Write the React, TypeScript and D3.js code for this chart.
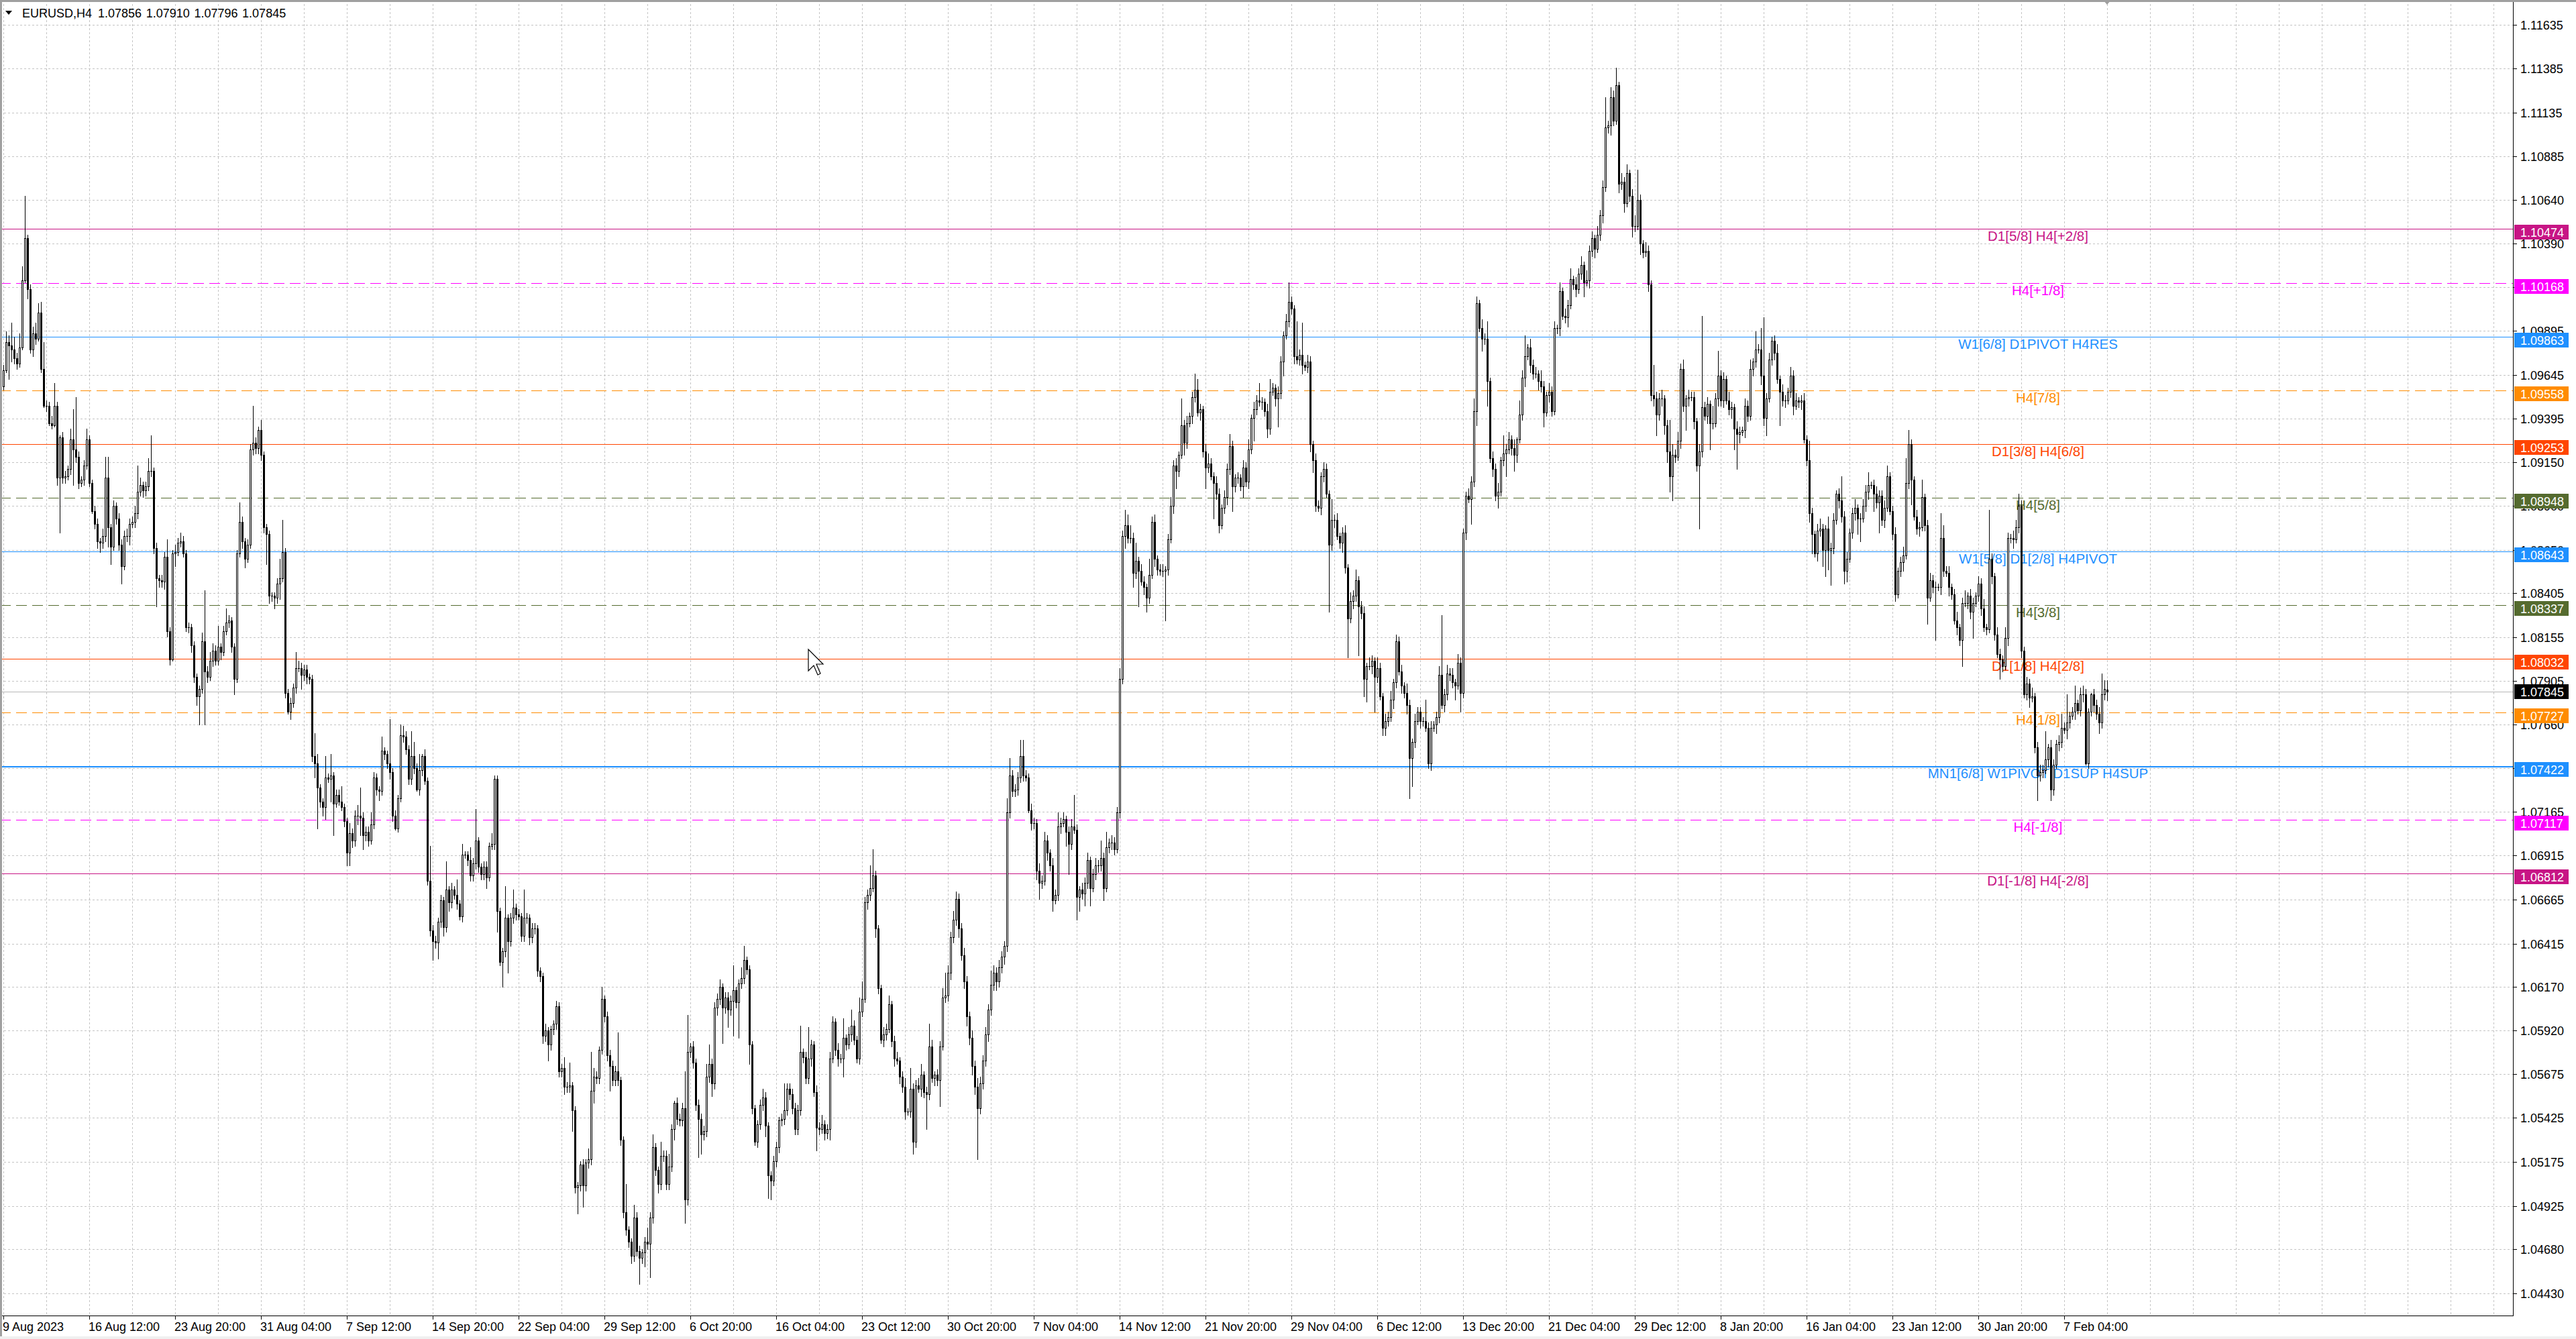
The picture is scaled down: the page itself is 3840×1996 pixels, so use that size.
import React from "react";
import * as d3 from "d3";

// ---------- DATA (prices in pips above 1.0000, e.g. 885 = 1.0885) ----------
const firstOpen = 958;
const closes: number[] = [
  967,983,981,979,974,971,980,1018,1042,1013,979,988,985,1000,968,947,947,937,936,947,
  906,929,906,907,911,928,922,918,903,905,913,928,903,887,880,870,869,873,906,878,
  867,890,883,868,856,873,873,880,881,886,898,902,899,901,910,910,866,849,848,847,
  861,819,803,863,864,869,870,863,821,821,811,793,782,786,813,796,793,802,808,802,
  810,807,819,824,825,810,792,863,881,870,860,868,922,926,923,933,919,878,874,839,
  839,838,846,849,864,784,773,778,787,798,798,794,797,793,792,748,744,730,722,719,
  736,735,737,721,726,722,719,711,693,704,700,714,714,713,703,705,700,709,736,729,
  728,751,749,744,739,714,707,724,760,759,752,735,748,741,729,740,748,734,677,649,
  643,642,654,666,651,672,665,672,669,664,657,692,692,689,680,687,700,685,681,685,
  679,697,698,735,660,631,637,656,643,656,662,658,657,646,656,656,645,650,650,626,
  623,589,592,584,593,596,606,569,571,560,560,561,547,503,504,516,504,517,519,558,
  566,565,581,610,600,578,572,564,569,564,530,489,479,472,464,486,467,463,466,472,
  471,486,526,513,505,521,521,505,515,536,551,542,541,548,496,580,583,574,550,542,
  533,535,566,573,562,605,610,617,605,611,604,609,615,608,619,622,632,627,584,548,
  529,539,550,554,538,510,507,518,526,541,542,547,559,556,548,536,547,580,577,565,
  576,584,557,537,536,539,534,536,576,597,581,576,576,588,584,590,595,587,576,603,
  610,665,669,673,680,650,616,587,590,593,607,586,576,575,566,560,546,546,559,529,
  561,559,567,557,556,583,565,567,564,583,611,612,625,645,655,667,650,635,620,600,
  588,572,560,548,562,575,590,604,618,625,620,628,634,640,716,737,728,729,736,748,
  737,736,717,710,710,683,676,677,700,693,686,666,669,708,710,712,705,698,708,706,
  668,672,670,676,689,673,681,686,686,690,673,696,699,699,695,716,792,873,879,872,
  872,852,859,853,847,844,838,851,881,860,854,853,853,854,871,890,913,910,919,936,
  926,937,941,952,956,943,945,921,912,914,907,903,897,879,889,895,911,924,901,906,
  906,901,912,904,922,940,945,950,949,949,944,934,955,957,951,954,972,987,995,1006,
  1002,975,973,976,970,969,972,925,916,890,889,907,911,897,868,882,882,873,869,875,
  855,826,836,839,848,833,829,792,799,799,802,793,798,782,764,768,770,780,790,813,
  796,788,784,777,747,756,768,773,768,768,764,744,764,766,770,794,777,783,795,794,
  790,788,801,784,875,896,894,904,944,1005,991,985,985,961,917,911,896,898,916,920,
  922,928,923,919,928,942,963,975,980,970,965,965,961,958,943,953,955,944,991,991,
  1012,998,997,1004,1019,1016,1013,1022,1027,1017,1018,1035,1042,1036,1044,1055,1071,1105,1106,1122,
  1109,1129,1073,1074,1062,1079,1066,1049,1049,1064,1039,1034,1035,1016,953,951,942,951,951,936,
  921,907,919,918,927,968,947,951,952,952,938,913,921,946,941,948,937,937,951,964,
  950,962,950,945,946,934,931,932,933,947,941,968,972,979,979,964,940,951,973,984,
  977,962,955,950,950,955,964,947,950,949,950,928,916,886,874,863,876,877,865,877,
  865,866,882,897,893,884,853,860,875,886,889,883,883,890,898,902,902,897,892,896,
  882,889,907,887,874,840,853,858,862,903,925,905,884,877,878,895,879,838,848,844,
  844,844,872,853,852,844,840,825,821,814,835,835,839,830,835,839,846,832,821,820,
  860,850,817,806,803,799,815,872,872,871,878,890,808,783,789,781,782,753,737,739,
  740,746,753,729,743,755,756,764,763,767,771,773,778,774,783,783,744,773,783,777,
  772,767,783,786,784.5,
];
// upper wick (pips above body top)
const wickUp: number[] = [
  3,6,4,13,7,3,8,8,24,2,3,4,6,5,6,15,3,2,4,13,
  2,1,3,3,2,6,17,30,3,2,3,6,2,2,3,3,2,4,12,12,
  2,3,2,3,3,3,4,3,3,4,15,4,2,3,7,20,2,3,2,3,
  3,10,2,2,4,3,5,3,2,3,2,2,2,2,5,29,3,5,4,3,
  12,2,3,8,3,2,2,2,11,3,2,3,3,21,3,2,6,2,2,2,
  2,2,3,11,18,2,2,3,2,9,4,3,3,3,2,2,13,5,2,2,
  12,2,12,2,3,3,9,2,2,6,3,3,6,16,3,3,3,7,3,2,
  2,8,2,2,25,2,3,2,6,5,3,2,14,8,3,9,1,4,2,20,
  3,3,2,3,2,16,2,4,2,9,2,6,2,2,7,3,18,2,2,3,
  3,2,6,2,2,2,2,18,2,3,10,2,3,2,16,3,2,3,3,2,
  2,2,4,2,2,2,3,2,2,6,3,13,2,2,2,2,3,2,6,22,
  5,3,2,7,2,3,3,3,3,22,2,2,16,2,2,7,3,3,2,3,
  8,3,7,2,2,8,3,3,7,3,1,3,3,3,21,21,2,3,2,3,
  3,3,7,11,3,3,3,4,2,3,3,3,14,2,2,6,8,2,2,2,
  2,2,3,5,3,2,2,3,3,2,3,15,3,3,3,3,3,15,2,3,
  18,3,2,4,3,5,2,3,4,3,2,4,3,11,2,4,9,3,2,8,
  10,3,3,13,15,3,2,2,4,3,5,2,3,4,2,3,5,2,12,3,
  3,4,6,2,3,13,4,2,3,3,5,13,4,3,5,4,3,3,4,3,
  3,4,3,5,4,3,4,3,8,4,3,4,3,3,8,10,3,3,3,9,
  9,3,2,4,3,2,4,3,5,3,2,4,3,8,3,4,2,3,4,18,
  3,2,4,3,4,2,3,4,3,10,3,9,2,4,3,3,6,3,9,6,
  7,3,10,2,4,3,2,9,3,4,2,3,4,2,3,5,3,4,2,15,
  3,4,2,3,9,6,3,2,4,6,3,2,4,3,2,4,3,7,3,2,
  3,2,4,3,6,2,4,3,10,3,2,4,7,3,2,4,3,2,4,11,
  3,2,20,3,18,2,4,3,2,4,3,2,4,3,2,12,3,4,2,3,
  4,2,5,3,6,2,3,4,2,5,3,2,6,3,2,4,3,5,2,4,
  3,4,2,5,3,2,4,3,3,2,12,3,4,2,3,5,34,3,5,3,
  4,2,5,3,2,2,4,3,7,4,2,5,3,10,2,4,3,5,2,10,
  3,4,2,5,1,8,4,12,2,5,3,4,2,6,3,2,5,3,4,2,
  5,2,4,3,6,2,4,3,5,2,6,3,4,2,5,3,4,17,3,6,
  4,10,2,5,3,5,2,4,6,17,3,2,5,3,2,17,4,3,5,2,
  3,18,6,3,5,3,5,2,4,3,3,2,4,52,3,4,2,10,3,14,
  3,4,2,5,3,2,4,3,2,4,3,5,2,10,3,12,33,3,4,2,
  3,5,2,4,3,2,5,3,4,2,3,4,2,11,3,2,4,6,3,2,
  7,3,4,2,3,14,3,4,2,3,5,2,3,4,4,7,2,3,4,3,
  3,4,6,2,3,4,2,3,5,14,8,3,2,4,3,10,2,3,4,3,
  3,2,14,7,3,4,2,3,5,2,3,7,2,4,3,2,4,3,5,2,
  28,3,2,4,3,2,6,3,2,4,4,7,3,2,4,3,5,2,3,4,
  3,16,2,4,3,2,4,8,3,16,2,3,10,2,4,5,3,2,1,3,
  3,4,12,5,5.4,
];
// lower wick (pips below body bottom)
const wickDn: number[] = [
  2,1,19,7,3,3,2,1,1,5,2,4,3,1,2,1,3,1,2,1,
  4,31,3,3,2,3,20,3,3,2,3,2,2,1,3,4,5,3,3,11,
  10,2,3,3,10,2,3,5,2,3,3,2,4,3,2,3,3,16,4,3,
  4,3,3,1,7,2,2,2,2,3,4,3,5,16,2,30,3,2,3,2,
  2,4,2,2,3,3,9,2,2,4,5,2,2,3,3,3,3,3,17,4,
  3,6,3,9,2,3,1,4,2,3,2,8,3,4,3,3,8,23,3,5,
  7,2,13,18,2,2,2,3,7,7,4,3,5,10,8,3,3,2,2,3,
  5,2,3,3,4,3,1,2,2,3,3,3,3,3,1,3,3,2,2,3,
  11,3,9,3,5,3,5,3,2,3,2,3,2,3,3,3,3,3,3,3,
  6,2,2,3,12,2,14,3,18,3,3,3,2,3,3,3,4,3,3,3,
  3,4,3,9,3,3,3,3,3,4,3,3,12,3,15,3,12,3,3,3,
  7,3,3,2,3,3,14,3,3,3,3,3,3,3,4,3,3,15,3,8,
  3,19,3,3,5,3,3,3,3,3,6,3,3,3,13,3,3,3,3,22,
  11,3,3,3,7,3,4,3,20,3,10,3,20,3,20,3,3,3,11,3,
  2,3,3,3,6,13,11,3,3,3,3,3,3,3,3,3,3,3,3,3,
  3,4,2,13,3,2,4,3,6,2,3,4,2,10,3,2,4,3,2,3,
  3,2,4,3,2,5,3,2,4,3,2,3,4,2,4,3,4,2,3,7,
  3,2,4,3,20,3,2,4,3,15,2,3,3,4,3,3,5,3,4,5,
  4,5,4,29,3,3,3,4,3,3,5,3,3,4,3,3,3,3,3,3,
  3,2,1,4,3,5,9,3,2,4,3,6,2,3,4,2,8,17,3,2,
  13,8,3,7,3,10,2,3,4,3,7,2,3,4,3,2,3,3,7,3,
  3,8,3,20,2,4,8,3,2,4,3,2,3,28,3,2,4,10,3,2,
  7,3,2,4,3,2,4,3,12,3,2,20,3,4,2,3,4,3,14,3,
  3,2,6,3,4,2,13,3,2,4,3,5,3,2,4,16,3,8,2,3,
  3,4,2,3,5,2,3,4,7,3,2,4,3,2,38,3,4,2,3,5,
  3,22,2,4,3,28,3,10,13,2,4,20,3,2,4,4,3,2,5,3,
  2,4,3,5,23,16,3,2,4,3,2,3,4,2,5,3,2,4,3,3,
  3,8,2,11,3,4,2,14,3,8,2,7,3,14,2,4,3,7,2,3,
  13,2,4,9,4,2,3,5,2,4,3,2,5,3,8,2,4,3,2,3,
  4,2,3,5,2,3,4,2,3,8,2,4,3,5,2,3,4,2,3,5,
  3,2,5,3,5,2,3,6,3,2,6,3,2,4,3,4,12,3,4,5,
  6,9,14,3,2,4,3,14,4,2,4,3,36,3,2,4,15,3,2,4,
  3,4,2,3,5,12,20,5,2,4,3,2,4,3,2,5,4,10,2,3,
  4,2,19,3,4,2,3,5,2,3,4,2,3,5,11,2,4,3,9,15,
  11,20,3,2,4,3,7,6,2,3,4,9,13,2,3,4,2,10,3,17,
  3,4,2,2,3,4,2,3,5,2,3,14,2,3,4,2,3,15,2,3,
  30,2,4,3,2,5,3,2,4,3,15,2,3,4,15,2,3,4,2,3,
  2,4,3,2,11,3,2,4,3,5,2,3,4,2,3,5,2,3,14,3,
  3,2,4,6,3,2,4,3,2,5,3,2,4,2,3,4,1,3,2,4,
  3,6,3,3,4.9,
];
const lastBar = [785.6, 791.0, 779.6, 784.5]; // O H L C of the live bar

const headerSymbol = "EURUSD,H4";
const headerValues = ["1.07856", "1.07910", "1.07796", "1.07845"];

const priceTicks = [
  "1.11635","1.11385","1.11135","1.10885","1.10640","1.10390","1.10145","1.09895","1.09645","1.09395",
  "1.09150","1.08900","1.08650","1.08405","1.08155","1.07905","1.07660","1.07410","1.07165","1.06915",
  "1.06665","1.06415","1.06170","1.05920","1.05675","1.05425","1.05175","1.04925","1.04680","1.04430",
];
const timeLabels = [
  "9 Aug 2023","16 Aug 12:00","23 Aug 20:00","31 Aug 04:00","7 Sep 12:00","14 Sep 20:00","22 Sep 04:00",
  "29 Sep 12:00","6 Oct 20:00","16 Oct 04:00","23 Oct 12:00","30 Oct 20:00","7 Nov 04:00","14 Nov 12:00",
  "21 Nov 20:00","29 Nov 04:00","6 Dec 12:00","13 Dec 20:00","21 Dec 04:00","29 Dec 12:00","8 Jan 20:00",
  "16 Jan 04:00","23 Jan 12:00","30 Jan 20:00","7 Feb 04:00",
];
const levelPrices = [1.10474,1.10168,1.09863,1.09558,1.09253,1.08948,1.08643,1.08337,1.08032,1.07727,1.07422,1.07117,1.06812];
const levelTexts = [
  "D1[5/8] H4[+2/8]","H4[+1/8]","W1[6/8] D1PIVOT H4RES","H4[7/8]","D1[3/8] H4[6/8]","H4[5/8]",
  "W1[5/8] D1[2/8] H4PIVOT","H4[3/8]","D1[1/8] H4[2/8]","H4[1/8]","MN1[6/8] W1PIVOT D1SUP H4SUP","H4[-1/8]","D1[-1/8] H4[-2/8]",
];
const levelTags = ["1.10474","1.10168","1.09863","1.09558","1.09253","1.08948","1.08643","1.08337","1.08032","1.07727","1.07422","1.07117","1.06812"];
const bidPrice = 1.07845;
const bidTag = "1.07845";

// ---------- STYLE ----------
const levelColors = ["#C71585","#FF00FF","#1E90FF","#FF8C00","#FF4500","#556B2F","#1E90FF","#556B2F","#FF4500","#FF8C00","#1E90FF","#FF00FF","#C71585"];
const levelDashed = [false,true,false,true,false,true,false,true,false,true,false,true,false];
const FONT = "'Liberation Sans', Arial, sans-serif";

const W = 3840, H = 1996;
const PLOT_R = 3746, PLOT_B = 1961;

export default function App() {
  const x = d3.scaleLinear().domain([0, 1]).range([5, 9]);
  const y = d3.scaleLinear().domain([1.0443, 1.11635]).range([1927.5, 36.5]);
  const P = (v: number) => 1 + v / 10000;
  const py = (v: number) => Math.round(y(P(v)));

  const n = closes.length;
  const candles = closes.map((c, i) => {
    let o = i === 0 ? firstOpen : closes[i - 1];
    let hi = Math.max(o, c) + (wickUp[i] ?? 3);
    let lo = Math.min(o, c) - (wickDn[i] ?? 3);
    if (i === n - 1) { o = lastBar[0]; hi = lastBar[1]; lo = lastBar[2]; c = lastBar[3]; }
    return { i, o, c, hi, lo };
  });

  const vGrid = d3.range(0, 60).map((k) => Math.round(x(16 * k))).filter((v) => v < PLOT_R);

  return (
    <svg width={W} height={H} viewBox={`0 0 ${W} ${H}`}
      style={{ position: "absolute", left: 0, top: 0, display: "block", background: "#fff" }}>
      <rect x={0} y={0} width={W} height={H} fill="#fff" />
      {/* grid */}
      <g shapeRendering="crispEdges" stroke="#c4c4c4" strokeWidth={1} strokeDasharray="3,3">
        {priceTicks.map((t) => {
          const yy = Math.round(y(+t)) + 0.5;
          return <line key={"h" + t} x1={0} x2={PLOT_R} y1={yy} y2={yy} />;
        })}
        {vGrid.map((vx) => (
          <line key={"v" + vx} x1={vx + 0.5} x2={vx + 0.5} y1={0} y2={PLOT_B} />
        ))}
      </g>
      {/* level lines */}
      <g shapeRendering="crispEdges">
        {levelPrices.map((p, k) => {
          const yy = Math.round(y(p)) + 0.5;
          return (
            <line key={"l" + k} x1={0} x2={PLOT_R} y1={yy} y2={yy}
              stroke={levelColors[k]} strokeWidth={k === 10 ? 2 : 1}
              strokeDasharray={levelDashed[k] ? "16,8" : undefined} />
          );
        })}
        <line x1={0} x2={PLOT_R} y1={Math.round(y(bidPrice)) + 0.5} y2={Math.round(y(bidPrice)) + 0.5} stroke="#b8b8b8" strokeWidth={1} />
      </g>
      {/* level labels */}
      <g fontFamily={FONT} fontSize={20.5} textAnchor="middle">
        {levelPrices.map((p, k) => (
          <text key={"t" + k} x={3038} y={Math.round(y(p)) + 18} fill={levelColors[k]}>{levelTexts[k]}</text>
        ))}
      </g>
      {/* candles */}
      <g shapeRendering="crispEdges">
        {candles.map((d) => {
          const cx = Math.round(x(d.i));
          const yo = py(d.o), yc = py(d.c), yh = py(d.hi), yl = py(d.lo);
          const top = Math.min(yo, yc), bot = Math.max(yo, yc);
          const bull = d.c > d.o;
          return (
            <g key={d.i}>
              <line x1={cx + 0.5} x2={cx + 0.5} y1={yh} y2={yl + 1} stroke="#000" strokeWidth={1} />
              {bot - top < 1 ? (
                <line x1={cx - 1} x2={cx + 2} y1={top + 0.5} y2={top + 0.5} stroke="#000" strokeWidth={1} />
              ) : bull ? (
                <rect x={cx - 0.5} y={top + 0.5} width={2} height={bot - top} fill="#fff" stroke="#000" strokeWidth={1} />
              ) : (
                <rect x={cx - 1} y={top} width={3} height={bot - top + 1} fill="#000" />
              )}
            </g>
          );
        })}
      </g>
      {/* axes frame */}
      <g shapeRendering="crispEdges" stroke="#000" strokeWidth={1}>
        <line x1={PLOT_R + 0.5} x2={PLOT_R + 0.5} y1={0} y2={PLOT_B + 1} />
        <line x1={0} x2={PLOT_R + 1} y1={PLOT_B + 0.5} y2={PLOT_B + 0.5} />
        {priceTicks.map((t) => {
          const yy = Math.round(y(+t)) + 0.5;
          return <line key={"tk" + t} x1={PLOT_R + 1} x2={PLOT_R + 6} y1={yy} y2={yy} />;
        })}
        {timeLabels.map((t, k) => {
          const xx = Math.round(x(32 * k)) + 0.5;
          return <line key={"tt" + k} x1={xx} x2={xx} y1={PLOT_B + 1} y2={PLOT_B + 6} />;
        })}
      </g>
      {/* price axis labels */}
      <g fontFamily={FONT} fontSize={18} fill="#000">
        {priceTicks.map((t) => (
          <text key={"pl" + t} x={3757} y={Math.round(y(+t)) + 6.5}>{t}</text>
        ))}
      </g>
      {/* price tags */}
      <g fontFamily={FONT} fontSize={18}>
        {levelPrices.map((p, k) => {
          const yy = Math.round(y(p));
          return (
            <g key={"tag" + k}>
              <rect x={3748} y={yy - 6} width={81} height={22} fill={levelColors[k]} />
              <text x={3757} y={yy + 11.5} fill="#fff">{levelTags[k]}</text>
            </g>
          );
        })}
        <rect x={3748} y={Math.round(y(bidPrice)) - 11} width={81} height={22} fill="#000" />
        <text x={3757} y={Math.round(y(bidPrice)) + 6.5} fill="#fff">{bidTag}</text>
      </g>
      {/* time labels */}
      <g fontFamily={FONT} fontSize={18} fill="#000">
        {timeLabels.map((t, k) => (
          <text key={"tl" + k} x={Math.round(x(32 * k)) - 1} y={1984}>{t}</text>
        ))}
      </g>
      {/* header */}
      <path d="M8,16 L18,16 L13,22 Z" fill="#000" />
      <text x={33} y={26} fontFamily={FONT} fontSize={18} fill="#000">{headerSymbol}</text>
      {headerValues.map((v, k) => (
        <text key={"hv" + k} x={146 + 71.7 * k} y={26} fontFamily={FONT} fontSize={18} fill="#000">{v}</text>
      ))}
      {/* chart shift marker */}
      <path d={`M${Math.round(x(n - 1)) - 6},0 L${Math.round(x(n - 1)) + 6},0 L${Math.round(x(n - 1))},7 Z`} fill="#a0a0a0" />
      {/* window frame */}
      <rect x={0} y={0} width={W} height={3} fill="#a0a0a0" />
      <rect x={0} y={0} width={3} height={H} fill="#a0a0a0" />
      <rect x={0} y={1992} width={W} height={4} fill="#f0f0f0" />
      {/* mouse cursor */}
      <path transform="translate(1205,968) scale(2)" d="M0,0 L0,16 L4,12 L7,19 L9,18 L6,11 L11,11 Z"
        fill="#fff" stroke="#000" strokeWidth={0.6} />
    </svg>
  );
}
